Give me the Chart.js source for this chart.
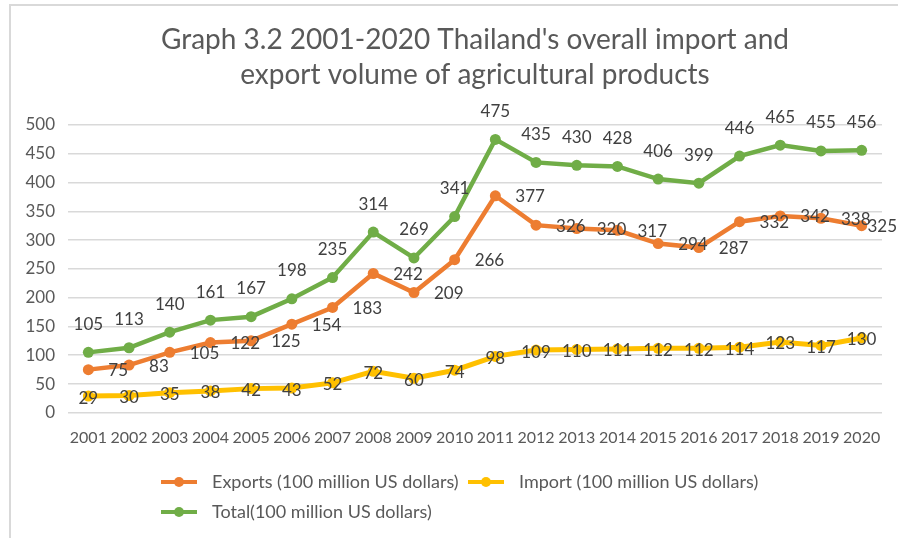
<!DOCTYPE html>
<html>
<head>
<meta charset="utf-8">
<script src="https://cdn.jsdelivr.net/npm/chart.js@4/dist/chart.umd.min.js"></script>
<style>
    html, body { margin: 0; padding: 0; background: #fff; }
    #wrap { position: relative; width: 898px; height: 538px; overflow: hidden; }
    #frame {
        position: absolute; left: 9px; top: 4px; right: -4px; bottom: -4px;
        border-top: 2px solid #d9d9d9; border-left: 2px solid #d9d9d9;
        pointer-events: none;
    }
    canvas { position: absolute; left: 0; top: 0; }
</style>
</head>
<body>
<div id="wrap">
    <canvas id="tradeChart" width="898" height="538"></canvas>
    <div id="frame"></div>
</div>
<script>
// ====== Data (100 million US dollars) ======
const years = ["2001", "2002", "2003", "2004", "2005", "2006", "2007", "2008", "2009", "2010",
               "2011", "2012", "2013", "2014", "2015", "2016", "2017", "2018", "2019", "2020"];

const exportVals = [75, 83, 105, 122, 125, 154, 183, 242, 209, 266,
                    377, 326, 320, 317, 294, 287, 332, 342, 338, 325];

const importVals = [29, 30, 35, 38, 42, 43, 52, 72, 60, 74,
                    98, 109, 110, 111, 112, 112, 114, 123, 117, 130];

const totalVals  = [105, 113, 140, 161, 167, 198, 235, 314, 269, 341,
                    475, 435, 430, 428, 406, 399, 446, 465, 455, 456];

const yTicks = [0, 50, 100, 150, 200, 250, 300, 350, 400, 450, 500];

const FONT = "Lato, 'Open Sans', sans-serif";

// ====== Value labels next to each point ======
const valueLabels = {
    id: "valueLabels",
    afterDatasetsDraw(chart) {
        const ctx = chart.ctx;
        const maxX = chart.width - 1;
        ctx.save();
        ctx.font = "17px " + FONT;
        ctx.fillStyle = "#404040";
        ctx.textBaseline = "middle";
        chart.data.datasets.forEach((ds, i) => {
            const meta = chart.getDatasetMeta(i);
            meta.data.forEach((pt, j) => {
                const txt = String(ds.data[j]);
                if (ds.labelPos === "right") {
                    // keep the label inside the canvas at the right edge
                    const w = ctx.measureText(txt).width;
                    const x = Math.min(pt.x + 20, maxX - w);
                    ctx.textAlign = "left";
                    ctx.fillText(txt, x, pt.y + 1);
                } else if (ds.labelPos === "above") {
                    ctx.textAlign = "center";
                    ctx.fillText(txt, pt.x, pt.y - 28);
                } else {
                    ctx.textAlign = "center";
                    ctx.fillText(txt, pt.x, pt.y + 2);
                }
            });
        });
        ctx.restore();
    }
};

// ====== Legend at the bottom (line + dot marker) ======
const bottomLegend = {
    id: "bottomLegend",
    afterDraw(chart) {
        const ctx = chart.ctx;
        const rows = [
            [{ ds: 0, x: 161 }, { ds: 1, x: 468 }],
            [{ ds: 2, x: 161 }]
        ];
        const rowY = [482, 512];
        ctx.save();
        ctx.font = "18px " + FONT;
        ctx.textBaseline = "middle";
        ctx.textAlign = "left";
        rows.forEach((row, r) => {
            row.forEach(item => {
                const ds = chart.data.datasets[item.ds];
                const y = rowY[r];
                ctx.strokeStyle = ds.borderColor;
                ctx.lineWidth = 4;
                ctx.beginPath();
                ctx.moveTo(item.x, y);
                ctx.lineTo(item.x + 36, y);
                ctx.stroke();
                ctx.fillStyle = ds.borderColor;
                ctx.beginPath();
                ctx.arc(item.x + 18, y, 5, 0, Math.PI * 2);
                ctx.fill();
                ctx.fillStyle = "#595959";
                ctx.fillText(ds.label, item.x + 51, y);
            });
        });
        ctx.restore();
    }
};

document.addEventListener("DOMContentLoaded", () => {
    const ctx = document.getElementById("tradeChart");

    new Chart(ctx, {
        type: "line",
        data: {
            labels: years,
            datasets: [
                {
                    label: "Exports (100 million US dollars)",
                    data: exportVals,
                    borderColor: "#ed7d31",
                    backgroundColor: "#ed7d31",
                    borderWidth: 4.5,
                    pointRadius: 5.5,
                    pointBorderWidth: 0,
                    labelPos: "right"
                },
                {
                    label: "Import (100 million US dollars)",
                    data: importVals,
                    borderColor: "#ffc000",
                    backgroundColor: "#ffc000",
                    borderWidth: 5,
                    pointRadius: 5.5,
                    pointBorderWidth: 0,
                    labelPos: "center"
                },
                {
                    label: "Total(100 million US dollars)",
                    data: totalVals,
                    borderColor: "#70ad47",
                    backgroundColor: "#70ad47",
                    borderWidth: 4.5,
                    pointRadius: 5.5,
                    pointBorderWidth: 0,
                    labelPos: "above"
                }
            ]
        },
        options: {
            responsive: false,
            animation: false,
            events: [],
            layout: { padding: { left: 10, right: 16, top: 0, bottom: 76 } },
            plugins: {
                legend: { display: false },
                tooltip: { enabled: false },
                title: {
                    display: true,
                    fullSize: false,
                    text: ["Graph 3.2 2001-2020 Thailand's overall import and",
                           "export volume of agricultural products"],
                    color: "#595959",
                    font: { family: FONT, size: 28, weight: "normal", lineHeight: 1.25 },
                    padding: { top: 22, bottom: 33 }
                }
            },
            scales: {
                x: {
                    offset: true,
                    grid: { display: false, drawTicks: false },
                    border: { display: false },
                    ticks: {
                        color: "#595959",
                        font: { family: FONT, size: 16 },
                        padding: 15,
                        maxRotation: 0,
                        autoSkip: false
                    }
                },
                y: {
                    min: 0,
                    max: 500,
                    afterBuildTicks: (scale) => {
                        scale.ticks = yTicks.map(v => ({ value: v }));
                    },
                    afterFit: (scale) => { scale.width = 58; },
                    grid: { color: "#d9d9d9", lineWidth: 1.5, drawTicks: false },
                    border: { display: false },
                    ticks: {
                        color: "#595959",
                        font: { family: FONT, size: 17 },
                        padding: 13
                    }
                }
            }
        },
        plugins: [valueLabels, bottomLegend]
    });
});
</script>
</body>
</html>
